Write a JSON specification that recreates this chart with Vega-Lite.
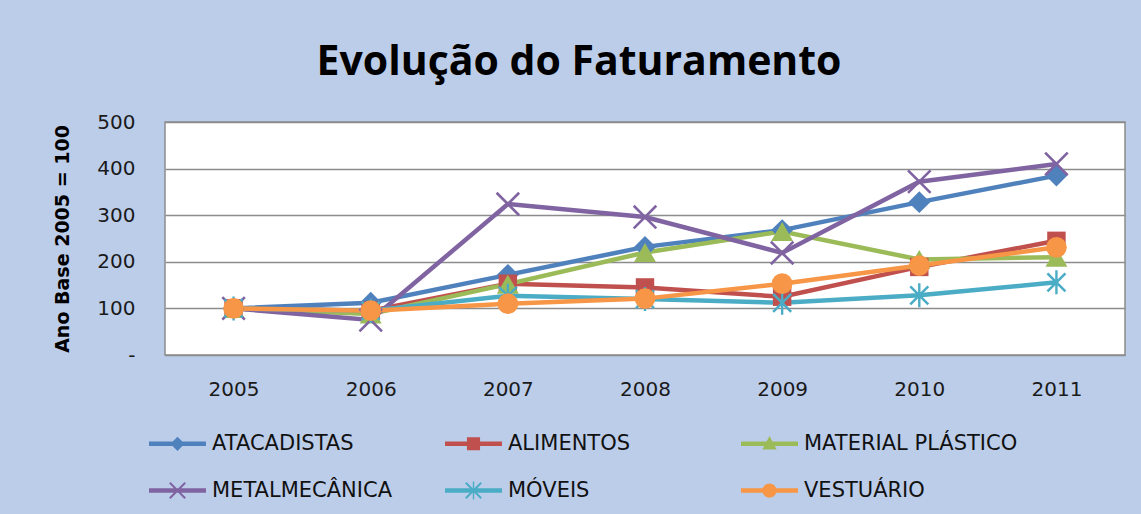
{
  "$schema": "https://vega.github.io/schema/vega-lite/v6.json",
  "autosize": "none",
  "width": 960,
  "height": 233,
  "padding": {"left": 165, "top": 122, "right": 16, "bottom": 159},
  "background": "#bccdea",
  "title": {
    "text": "Evolução do Faturamento",
    "font": "Open Sans",
    "fontSize": 41,
    "fontWeight": "bold",
    "color": "#000000",
    "anchor": "middle",
    "frame": "group",
    "dx": -66,
    "offset": 28
  },
  "config": {
    "view": {"stroke": "#8c8c8c", "strokeWidth": 1.5, "fill": "#ffffff"},
    "font": "DejaVu Sans"
  },
  "data": {
    "values": [
      {"serie": "ATACADISTAS", "ano": "2005", "valor": 100},
      {"serie": "ATACADISTAS", "ano": "2006", "valor": 112},
      {"serie": "ATACADISTAS", "ano": "2007", "valor": 172},
      {"serie": "ATACADISTAS", "ano": "2008", "valor": 232},
      {"serie": "ATACADISTAS", "ano": "2009", "valor": 268},
      {"serie": "ATACADISTAS", "ano": "2010", "valor": 328},
      {"serie": "ATACADISTAS", "ano": "2011", "valor": 385},
      {"serie": "ALIMENTOS", "ano": "2005", "valor": 100},
      {"serie": "ALIMENTOS", "ano": "2006", "valor": 95},
      {"serie": "ALIMENTOS", "ano": "2007", "valor": 153},
      {"serie": "ALIMENTOS", "ano": "2008", "valor": 145},
      {"serie": "ALIMENTOS", "ano": "2009", "valor": 125},
      {"serie": "ALIMENTOS", "ano": "2010", "valor": 189},
      {"serie": "ALIMENTOS", "ano": "2011", "valor": 245},
      {"serie": "MATERIAL PLÁSTICO", "ano": "2005", "valor": 100},
      {"serie": "MATERIAL PLÁSTICO", "ano": "2006", "valor": 88},
      {"serie": "MATERIAL PLÁSTICO", "ano": "2007", "valor": 152},
      {"serie": "MATERIAL PLÁSTICO", "ano": "2008", "valor": 220},
      {"serie": "MATERIAL PLÁSTICO", "ano": "2009", "valor": 265},
      {"serie": "MATERIAL PLÁSTICO", "ano": "2010", "valor": 205},
      {"serie": "MATERIAL PLÁSTICO", "ano": "2011", "valor": 210},
      {"serie": "METALMECÂNICA", "ano": "2005", "valor": 100},
      {"serie": "METALMECÂNICA", "ano": "2006", "valor": 75},
      {"serie": "METALMECÂNICA", "ano": "2007", "valor": 324},
      {"serie": "METALMECÂNICA", "ano": "2008", "valor": 296},
      {"serie": "METALMECÂNICA", "ano": "2009", "valor": 219},
      {"serie": "METALMECÂNICA", "ano": "2010", "valor": 372},
      {"serie": "METALMECÂNICA", "ano": "2011", "valor": 410},
      {"serie": "MÓVEIS", "ano": "2005", "valor": 100},
      {"serie": "MÓVEIS", "ano": "2006", "valor": 95},
      {"serie": "MÓVEIS", "ano": "2007", "valor": 127},
      {"serie": "MÓVEIS", "ano": "2008", "valor": 120},
      {"serie": "MÓVEIS", "ano": "2009", "valor": 112},
      {"serie": "MÓVEIS", "ano": "2010", "valor": 128},
      {"serie": "MÓVEIS", "ano": "2011", "valor": 156},
      {"serie": "VESTUÁRIO", "ano": "2005", "valor": 100},
      {"serie": "VESTUÁRIO", "ano": "2006", "valor": 95},
      {"serie": "VESTUÁRIO", "ano": "2007", "valor": 110},
      {"serie": "VESTUÁRIO", "ano": "2008", "valor": 121},
      {"serie": "VESTUÁRIO", "ano": "2009", "valor": 153},
      {"serie": "VESTUÁRIO", "ano": "2010", "valor": 192},
      {"serie": "VESTUÁRIO", "ano": "2011", "valor": 231}
    ]
  },
  "encoding": {
    "x": {
      "field": "ano",
      "type": "ordinal",
      "scale": {"type": "point", "padding": 0.5},
      "axis": {
        "title": null,
        "labelAngle": 0,
        "labelFont": "DejaVu Sans",
        "labelFontSize": 20,
        "labelColor": "#1a1a1a",
        "labelPadding": 24,
        "ticks": false,
        "tickSize": 0,
        "domain": false,
        "grid": false
      }
    },
    "y": {
      "field": "valor",
      "type": "quantitative",
      "scale": {"domain": [0, 500], "nice": false},
      "axis": {
        "values": [0, 100, 200, 300, 400, 500],
        "labelExpr": "datum.value == 0 ? '-' : datum.label",
        "title": "Ano Base 2005 = 100",
        "titleFont": "DejaVu Sans",
        "titleFontSize": 19,
        "titleFontWeight": "bold",
        "titleColor": "#000000",
        "titlePadding": 24,
        "labelFont": "DejaVu Sans",
        "labelFontSize": 20,
        "labelColor": "#1a1a1a",
        "labelPadding": 30,
        "ticks": false,
        "tickSize": 0,
        "domain": false,
        "grid": true,
        "gridColor": "#8c8c8c",
        "gridWidth": 1.3
      }
    },
    "color": {
      "field": "serie",
      "type": "nominal",
      "scale": {
        "domain": ["ATACADISTAS", "ALIMENTOS", "MATERIAL PLÁSTICO", "METALMECÂNICA", "MÓVEIS", "VESTUÁRIO"],
        "range": ["#4F81BD", "#C0504D", "#9BBB59", "#8064A2", "#4BACC6", "#F79646"]
      },
      "legend": {
        "title": null,
        "orient": "none",
        "legendX": -16,
        "legendY": 293,
        "direction": "horizontal",
        "columns": 3,
        "gridAlign": "all",
        "columnPadding": 19,
        "rowPadding": 8,
        "padding": 0,
        "symbolSize": 3249,
        "symbolStrokeWidth": 0,
        "labelFont": "DejaVu Sans",
        "labelFontSize": 21,
        "labelColor": "#111111",
        "labelOffset": 6,
        "labelLimit": 400
      }
    }
  },
  "layer": [
    {
      "mark": {"type": "line", "strokeWidth": 4.5}
    },
    {
      "mark": {"type": "point", "filled": true, "opacity": 1, "size": 0},
      "encoding": {
        "shape": {
          "field": "serie",
          "type": "nominal",
          "scale": {
            "domain": ["ATACADISTAS", "ALIMENTOS", "MATERIAL PLÁSTICO", "METALMECÂNICA", "MÓVEIS", "VESTUÁRIO"],
            "range": [
              "M-1,-0.08L-1,0.08L1,0.08L1,-0.08Z M-0.25,0L0,0.25L0.25,0L0,-0.25Z",
              "M-1,-0.08L-1,0.08L1,0.08L1,-0.08Z M-0.23,-0.23L-0.23,0.23L0.23,0.23L0.23,-0.23Z",
              "M-1,-0.08L-1,0.08L1,0.08L1,-0.08Z M0,-0.27L-0.25,0.2L0.25,0.2Z",
              "M-1,-0.08L-1,0.08L1,0.08L1,-0.08Z M-0.295,-0.245L0.245,0.295L0.295,0.245L-0.245,-0.295Z M0.245,-0.295L-0.295,0.245L-0.245,0.295L0.295,-0.245Z",
              "M-1,-0.08L-1,0.08L1,0.08L1,-0.08Z M-0.295,-0.245L0.245,0.295L0.295,0.245L-0.245,-0.295Z M0.245,-0.295L-0.295,0.245L-0.245,0.295L0.295,-0.245Z M-0.025,-0.32L-0.025,0.32L0.025,0.32L0.025,-0.32Z",
              "M-1,-0.08L-1,0.08L1,0.08L1,-0.08Z M-0.25,0A0.25,0.25 0 1 0 0.25,0A0.25,0.25 0 1 0 -0.25,0Z"
            ]
          }
        }
      }
    },
    {
      "transform": [{"filter": "datum.serie == 'ATACADISTAS'"}],
      "mark": {"type": "point", "shape": "diamond", "filled": true, "opacity": 1, "size": 480}
    },
    {
      "transform": [{"filter": "datum.serie == 'ALIMENTOS'"}],
      "mark": {"type": "point", "shape": "square", "filled": true, "opacity": 1, "size": 340}
    },
    {
      "transform": [{"filter": "datum.serie == 'MATERIAL PLÁSTICO'"}],
      "mark": {"type": "point", "shape": "triangle-up", "filled": true, "opacity": 1, "size": 480}
    },
    {
      "transform": [{"filter": "datum.serie == 'METALMECÂNICA'"}],
      "mark": {"type": "point", "shape": "M-1.19,-1.01L1.01,1.19L1.19,1.01L-1.01,-1.19Z M1.01,-1.19L-1.19,1.01L-1.01,1.19L1.19,-1.01Z", "filled": true, "opacity": 1, "size": 420}
    },
    {
      "transform": [{"filter": "datum.serie == 'MÓVEIS'"}],
      "mark": {"type": "point", "shape": "M-0.99,-0.81L0.81,0.99L0.99,0.81L-0.81,-0.99Z M0.81,-0.99L-0.99,0.81L-0.81,0.99L0.99,-0.81Z M-0.12,-1.2L-0.12,1.2L0.12,1.2L0.12,-1.2Z", "filled": true, "opacity": 1, "size": 400}
    },
    {
      "transform": [{"filter": "datum.serie == 'VESTUÁRIO'"}],
      "mark": {"type": "point", "shape": "circle", "filled": true, "opacity": 1, "size": 430}
    }
  ]
}
